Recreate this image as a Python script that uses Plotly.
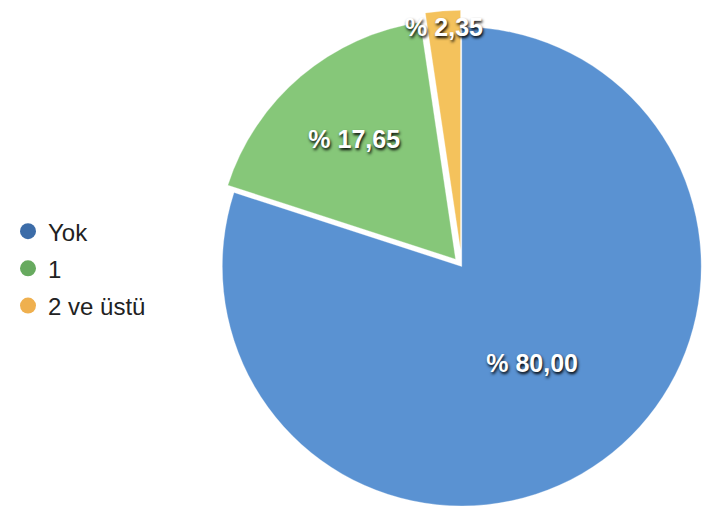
import plotly.graph_objects as go

categories = ["Yok", "1", "2 ve üstü"]
values = [80.00, 17.65, 2.35]
text_labels = ["% 80,00", "% 17,65", "% 2,35"]
slice_colors = ["#5A92D2", "#86C779", "#F4C25C"]
legend_colors = ["#3C6CA8", "#67AA5F", "#EFB04F"]
pulls = [0, 0.04, 0.07]

fig = go.Figure()

fig.add_trace(go.Pie(
    labels=categories,
    values=values,
    text=text_labels,
    textinfo="text",
    textposition="inside",
    insidetextorientation="horizontal",
    sort=False,
    direction="clockwise",
    rotation=0,
    pull=pulls,
    marker=dict(colors=slice_colors, line=dict(color="rgba(255,255,255,0.6)", width=0.5)),
    textfont=dict(family="Liberation Sans, Arial, sans-serif", size=25, color="white",
                  weight="bold", shadow="1px 2px 3px #000"),
    showlegend=False,
    hoverinfo="label+percent",
    domain=dict(x=[0.27, 1.0], y=[0.0, 1.0]),
))

for i, (cat, col) in enumerate(zip(categories, legend_colors)):
    fig.add_trace(go.Scatter(
        x=[None], y=[None], mode="markers", name=cat,
        legendgroup=f"g{i}",
        marker=dict(symbol="circle", size=16, color=col),
    ))

fig.update_layout(
    width=710, height=517,
    margin=dict(l=0, r=0, t=0, b=0),
    paper_bgcolor="white",
    plot_bgcolor="white",
    xaxis=dict(visible=False),
    yaxis=dict(visible=False),
    showlegend=True,
    uniformtext=dict(minsize=25, mode="show"),
    legend=dict(
        x=-0.012, y=0.496, xanchor="left", yanchor="middle",
        font=dict(family="Liberation Sans, Arial, sans-serif", size=24, color="#222"),
        tracegroupgap=3,
        bgcolor="rgba(0,0,0,0)",
    ),
)

fig.write_html("out.html")
